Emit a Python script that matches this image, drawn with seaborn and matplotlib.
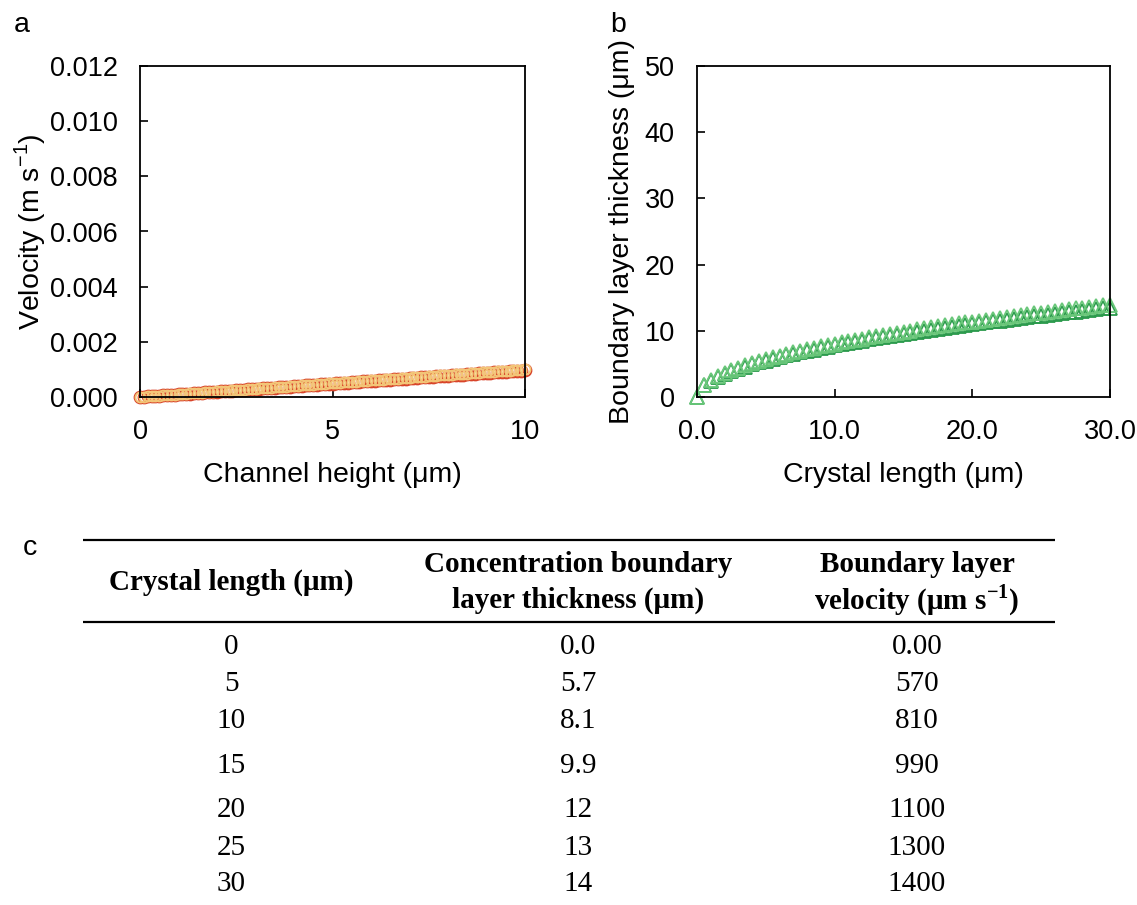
import numpy as np
import pandas as pd
import matplotlib
matplotlib.use("Agg")
import matplotlib.pyplot as plt
import seaborn as sns

# ---------------- data ----------------
channel_height = [0.0, 0.1, 0.2, 0.3, 0.4, 0.5, 0.6, 0.7, 0.8, 0.9,
                  1.0, 1.1, 1.2, 1.3, 1.4, 1.5, 1.6, 1.7, 1.8, 1.9,
                  2.0, 2.1, 2.2, 2.3, 2.4, 2.5, 2.6, 2.7, 2.8, 2.9,
                  3.0, 3.1, 3.2, 3.3, 3.4, 3.5, 3.6, 3.7, 3.8, 3.9,
                  4.0, 4.1, 4.2, 4.3, 4.4, 4.5, 4.6, 4.7, 4.8, 4.9,
                  5.0, 5.1, 5.2, 5.3, 5.4, 5.5, 5.6, 5.7, 5.8, 5.9,
                  6.0, 6.1, 6.2, 6.3, 6.4, 6.5, 6.6, 6.7, 6.8, 6.9,
                  7.0, 7.1, 7.2, 7.3, 7.4, 7.5, 7.6, 7.7, 7.8, 7.9,
                  8.0, 8.1, 8.2, 8.3, 8.4, 8.5, 8.6, 8.7, 8.8, 8.9,
                  9.0, 9.1, 9.2, 9.3, 9.4, 9.5, 9.6, 9.7, 9.8, 9.9,
                  10.0]
# velocities in um/s (converted to m/s for plotting)
velocity_upper_um = [0, 10, 20, 30, 40, 50, 60, 70, 80, 90,
                     100, 110, 120, 130, 140, 150, 160, 170, 180, 190,
                     200, 210, 220, 230, 240, 250, 260, 270, 280, 290,
                     300, 310, 320, 330, 340, 350, 360, 370, 380, 390,
                     400, 410, 420, 430, 440, 450, 460, 470, 480, 490,
                     500, 510, 520, 530, 540, 550, 560, 570, 580, 590,
                     600, 610, 620, 630, 640, 650, 660, 670, 680, 690,
                     700, 710, 720, 730, 740, 750, 760, 770, 780, 790,
                     800, 810, 820, 830, 840, 850, 860, 870, 880, 890,
                     900, 910, 920, 930, 940, 950, 960, 970, 980, 990,
                     1000]
velocity_lower_um = [0, 10, 19, 29, 39, 49, 58, 68, 78, 87,
                     97, 107, 116, 126, 136, 146, 155, 165, 175, 184,
                     194, 204, 213, 223, 233, 243, 252, 262, 272, 281,
                     291, 301, 310, 320, 330, 340, 349, 359, 369, 378,
                     388, 398, 407, 417, 427, 437, 446, 456, 466, 475,
                     485, 495, 504, 514, 524, 534, 543, 553, 563, 572,
                     582, 592, 601, 611, 621, 631, 640, 650, 660, 669,
                     679, 689, 698, 708, 718, 728, 737, 747, 757, 766,
                     776, 786, 795, 805, 815, 825, 834, 844, 854, 863,
                     873, 883, 892, 902, 912, 922, 931, 941, 951, 960,
                     970]

crystal_length = [0.0, 0.5, 1.0, 1.5, 2.0, 2.5, 3.0, 3.5, 4.0, 4.5,
                  5.0, 5.5, 6.0, 6.5, 7.0, 7.5, 8.0, 8.5, 9.0, 9.5,
                  10.0, 10.5, 11.0, 11.5, 12.0, 12.5, 13.0, 13.5, 14.0, 14.5,
                  15.0, 15.5, 16.0, 16.5, 17.0, 17.5, 18.0, 18.5, 19.0, 19.5,
                  20.0, 20.5, 21.0, 21.5, 22.0, 22.5, 23.0, 23.5, 24.0, 24.5,
                  25.0, 25.5, 26.0, 26.5, 27.0, 27.5, 28.0, 28.5, 29.0, 29.5,
                  30.0]
thickness_upper = [0.00, 1.80, 2.55, 3.12, 3.61, 4.03, 4.42, 4.77, 5.10, 5.41,
                   5.70, 5.98, 6.25, 6.50, 6.75, 6.98, 7.21, 7.43, 7.65, 7.86,
                   8.06, 8.26, 8.46, 8.65, 8.83, 9.02, 9.19, 9.37, 9.54, 9.71,
                   9.88, 10.04, 10.20, 10.36, 10.51, 10.67, 10.82, 10.97, 11.12, 11.26,
                   11.40, 11.55, 11.69, 11.82, 11.96, 12.10, 12.23, 12.36, 12.49, 12.62,
                   12.75, 12.88, 13.00, 13.13, 13.25, 13.37, 13.49, 13.61, 13.73, 13.85,
                   13.97]
thickness_lower = [0.00, 1.74, 2.46, 3.01, 3.48, 3.89, 4.27, 4.60, 4.92, 5.22,
                   5.50, 5.77, 6.03, 6.27, 6.51, 6.74, 6.96, 7.17, 7.38, 7.58,
                   7.78, 7.97, 8.16, 8.35, 8.52, 8.70, 8.87, 9.04, 9.21, 9.37,
                   9.53, 9.69, 9.84, 10.00, 10.14, 10.30, 10.44, 10.59, 10.73, 10.87,
                   11.00, 11.15, 11.28, 11.41, 11.54, 11.68, 11.80, 11.93, 12.05, 12.18,
                   12.30, 12.43, 12.55, 12.67, 12.79, 12.90, 13.02, 13.13, 13.25, 13.37,
                   13.48]

a_yticks = [0.000, 0.002, 0.004, 0.006, 0.008, 0.010, 0.012]
a_xticks = [0, 5, 10]
b_yticks = [0, 10, 20, 30, 40, 50]
b_xticks = [0.0, 10.0, 20.0, 30.0]

table_col1 = ["0", "5", "10", "15", "20", "25", "30"]
table_col2 = ["0.0", "5.7", "8.1", "9.9", "12", "13", "14"]
table_col3 = ["0.00", "570", "810", "990", "1100", "1300", "1400"]

# ---------------- style ----------------
sns.set_style("white")
plt.rcParams["font.family"] = ["Liberation Sans", "DejaVu Sans"]
plt.rcParams["text.color"] = "black"
plt.rcParams["axes.labelcolor"] = "black"
plt.rcParams["mathtext.fontset"] = "custom"
plt.rcParams["mathtext.rm"] = "Liberation Serif"
plt.rcParams["mathtext.sf"] = "Liberation Sans"
plt.rcParams["mathtext.bf"] = "Liberation Serif:bold"

W, H = 1137, 905
fig = plt.figure(figsize=(W / 100, H / 100), dpi=100)

def px_axes(l, t, r, b):
    return fig.add_axes([l / W, 1 - b / H, (r - l) / W, (b - t) / H])

ax_a = px_axes(140, 66, 525, 397)
ax_b = px_axes(697, 66, 1110, 397)

df_a = pd.DataFrame({
    "h": channel_height * 2,
    "v": list(np.array(velocity_lower_um) * 1e-6) + list(np.array(velocity_upper_um) * 1e-6),
    "s": ["lower"] * len(channel_height) + ["upper"] * len(channel_height),
})
df_b = pd.DataFrame({
    "L": crystal_length * 2,
    "d": thickness_lower + thickness_upper,
    "s": ["lower"] * len(crystal_length) + ["upper"] * len(crystal_length),
})

for name, col, ms in [("lower", "#d8442a", 8.6), ("upper", "#f3c678", 7.2)]:
    sub = df_a[df_a["s"] == name]
    sns.lineplot(data=sub, x="h", y="v", ax=ax_a, linestyle="none", marker="o",
                 markersize=ms, markerfacecolor="none", markeredgecolor=col,
                 markeredgewidth=1.3, color=col, sort=False, clip_on=False)

for name, col in [("lower", "#2b9a4c"), ("upper", "#6ac77a")]:
    sub = df_b[df_b["s"] == name]
    sns.lineplot(data=sub, x="L", y="d", ax=ax_b, linestyle="none", marker="^",
                 markersize=10, markerfacecolor="none", markeredgecolor=col,
                 markeredgewidth=1.3, color=col, sort=False, clip_on=False)

tfs = 19.5
lfs = 20.5
for ax in (ax_a, ax_b):
    for sp in ax.spines.values():
        sp.set_visible(True)
        sp.set_color("black")
        sp.set_linewidth(1.3)
    ax.tick_params(axis="both", direction="in", length=6, width=1.2,
                   labelsize=tfs, colors="black", labelcolor="black",
                   bottom=True, left=True, top=False, right=False)
    ax.tick_params(axis="y", pad=16)
    ax.tick_params(axis="x", pad=16)

ax_a.set_xlim(0, 10)
ax_a.set_ylim(0, 0.012)
ax_a.set_xticks(a_xticks)
ax_a.set_xticklabels([str(t) for t in a_xticks])
ax_a.set_yticks(a_yticks)
ax_a.set_yticklabels([f"{t:.3f}" for t in a_yticks])
ax_a.set_xlabel("Channel height (μm)", fontsize=lfs, labelpad=12)
ax_a.set_ylabel(r"Velocity (m s$^{\mathsf{-1}}$)", fontsize=lfs, labelpad=1)

ax_b.set_xlim(0, 30)
ax_b.set_ylim(0, 50)
ax_b.set_xticks(b_xticks)
ax_b.set_xticklabels([f"{t:.1f}" for t in b_xticks])
ax_b.set_yticks(b_yticks)
ax_b.set_yticklabels([str(t) for t in b_yticks])
ax_b.set_xlabel("Crystal length (μm)", fontsize=lfs, labelpad=12)
ax_b.set_ylabel("Boundary layer thickness (μm)", fontsize=lfs, labelpad=7)

# panel letters
fig.text(22 / W, 1 - 25 / H, "a", fontsize=lfs, ha="center", va="center")
fig.text(618 / W, 1 - 25 / H, "b", fontsize=lfs, ha="center", va="center")
fig.text(30 / W, 1 - 548 / H, "c", fontsize=lfs, ha="center", va="center")

# ---------------- table (c) ----------------
tab = fig.add_axes([0, 0, 1, 1], zorder=-1)
tab.set_xlim(0, W)
tab.set_ylim(H, 0)
tab.axis("off")
tab.hlines([540, 622], 83, 1055, color="black", linewidth=1.6)

serif = ["Liberation Serif", "DejaVu Serif"]
hfs = 21
tab.text(231, 582, "Crystal length (μm)", family=serif, fontweight="bold",
         fontsize=hfs, ha="center", va="center")
tab.text(578, 564, "Concentration boundary", family=serif, fontweight="bold",
         fontsize=hfs, ha="center", va="center")
tab.text(578, 600, "layer thickness (μm)", family=serif, fontweight="bold",
         fontsize=hfs, ha="center", va="center")
tab.text(917, 564, "Boundary layer", family=serif, fontweight="bold",
         fontsize=hfs, ha="center", va="center")
tab.text(917, 600, r"velocity (μm s$^{\mathbf{-1}}$)", family=serif, fontweight="bold",
         fontsize=hfs, ha="center", va="center")

row_y = [647, 684, 721, 766, 810, 848, 884]
dfs = 21
for y, c1, c2, c3 in zip(row_y, table_col1, table_col2, table_col3):
    tab.text(231, y, c1, family=serif, fontsize=dfs, ha="center", va="center")
    tab.text(578, y, c2, family=serif, fontsize=dfs, ha="center", va="center")
    tab.text(917, y, c3, family=serif, fontsize=dfs, ha="center", va="center")

fig.savefig("out.png", dpi=100, facecolor="white")
